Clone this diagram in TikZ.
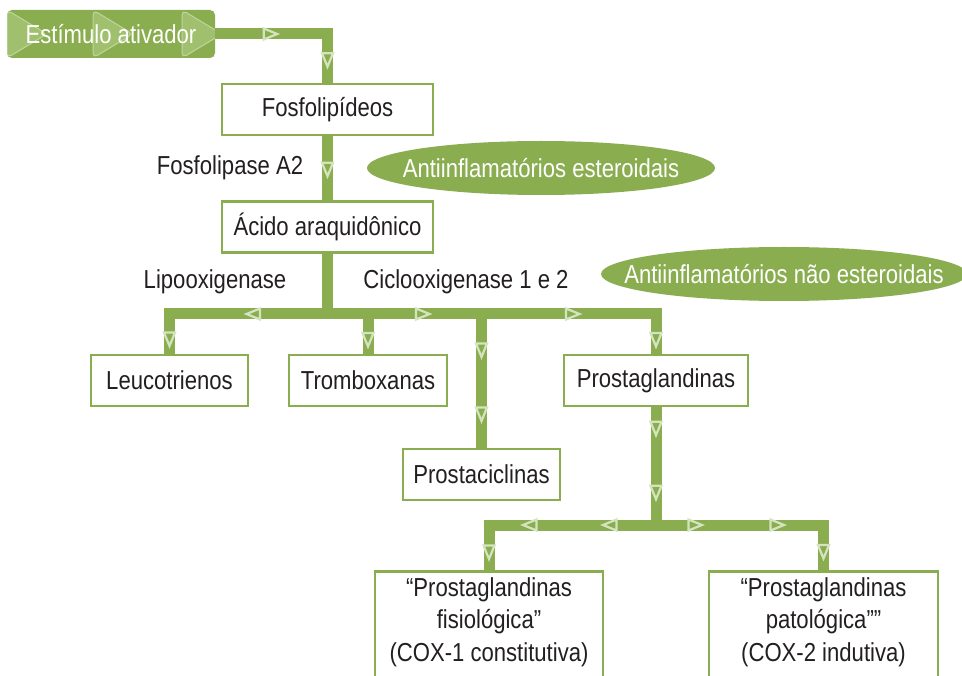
\documentclass[tikz,border=0pt]{standalone}
\usepackage{fontspec}
\setmainfont{Liberation Sans}[FakeStretch=0.85]
\usetikzlibrary{shapes.geometric,decorations.markings}

\definecolor{leaf}{RGB}{138,173,80}
\definecolor{pale}{RGB}{212,228,190}
\definecolor{tri}{RGB}{160,192,110}
\definecolor{ink}{RGB}{35,31,32}

% small open triangle sitting on the green bands
\newcommand{\chevron}{\draw[pale, line width=2.2pt, line join=miter] (-6.5,-5.5) -- (7,0) -- (-6.5,5.5) -- cycle;}

\begin{document}
\begin{tikzpicture}[x=1pt,y=-1pt,
  every node/.style={font=\fontsize{26}{32.5}\selectfont, text=ink},
  box/.style={draw=leaf, line width=2.5pt, fill=white, minimum height=51pt, inner sep=0pt},
  band/.style={draw=leaf, line width=11pt},
  mk/.style={postaction={decorate, decoration={markings, mark=at position #1 with {\chevron}}}},
  drug/.style={ellipse, fill=leaf, minimum width=348pt, minimum height=54pt, inner sep=0pt},
  trigger/.style={rectangle, rounded corners=5pt, fill=leaf, text=white, minimum width=208pt, minimum height=48pt,
    path picture={\foreach \tx in {0,86,175}
      \draw[fill=tri, draw=pale!60!tri, line width=1pt] ([xshift=\tx pt]path picture bounding box.north west) -- ++(40,24) -- ++(-40,24) -- cycle;}}]

  \useasboundingbox (0,0) rectangle (962,676);
  \fill[white] (0,0) rectangle (962,676);
  \clip (0,0) rectangle (962,676);

%%%%%%%%%%%%%%%%%%%%%%%%%%%%%%%%%%%%%%%%%%
  % Upper chain
  \node[trigger] (estim) at (111,34) {Estímulo ativador};
  \node[box, minimum width=211pt] (fosfo) at (327.5,109.5) {Fosfolipídeos};
  \node[box, minimum width=211pt] (acido) at (327.5,227) {Ácido araquidônico};

  \draw[band, mk=55pt, mk=138pt] (estim.east) -| (fosfo.north);
  \draw[band, mk=33pt] (fosfo.south) -- (acido.north);

  \node (fla2) at (230,168) {Fosfolipase A2};
  \node[drug, label={[text=white]center:Antiinflamatórios esteroidais}] (aie) at (541,168) {};

%%%%%%%%%%%%%%%%%%%%%%%%%%%%%%%%%%%%%%%%%%
  % Eicosanoids
  \node (lox) at (215,282) {Lipooxigenase};
  \node (cox) at (466,282) {Ciclooxigenase 1 e 2};
  \node[drug, minimum width=366pt, label={[text=white]center:Antiinflamatórios não esteroidais}] (ains) at (784,274) {};

  \node[box, minimum width=157pt] (leuco) at (169.5,380.5) {Leucotrienos};
  \node[box, minimum width=158pt] (tromb) at (368,380.5) {Tromboxanas};
  \node[box, minimum width=157pt] (prostac) at (481.5,474.5) {Prostaciclinas};
  \node[box, minimum width=184pt] (prostag) at (656,380.5) {Prostaglandinas};

  \coordinate (split) at (327.5,314);
  \draw[band] (acido.south) -- (split);
  \draw[band, mk=74pt, mk=183pt] (split) -| (leuco.north);
  \draw[band, mk=245pt, mk=354pt] (split) -| (prostag.north);
  \draw[band, mk=95pt, mk=190pt, mk=254pt] (split) -| (prostac.north);
  \draw[band, mk=66pt] (split) -| (tromb.north);

%%%%%%%%%%%%%%%%%%%%%%%%%%%%%%%%%%%%%%%%%%
  % COX-1 / COX-2
  \node[box, minimum width=228pt, minimum height=120pt, anchor=north] (cox1) at (489,570) {};
  \node[box, minimum width=229pt, minimum height=120pt, anchor=north] (cox2) at (823.5,570) {};
  \node[align=center] (cox1txt) at ([yshift=-52pt]cox1.north) {“Prostaglandinas\\fisiológica”\\(COX-1 constitutiva)};
  \node[align=center] (cox2txt) at ([yshift=-52pt]cox2.north) {“Prostaglandinas\\patológica””\\(COX-2 indutiva)};

  \coordinate (split2) at (656,525);
  \draw[band, mk=21pt, mk=85pt] (prostag.south) -- (split2);
  \draw[band, mk=46pt, mk=126pt, mk=194pt] (split2) -| (cox1.north);
  \draw[band, mk=39pt, mk=121pt, mk=194pt] (split2) -| (cox2.north);

\end{tikzpicture}
\end{document}
